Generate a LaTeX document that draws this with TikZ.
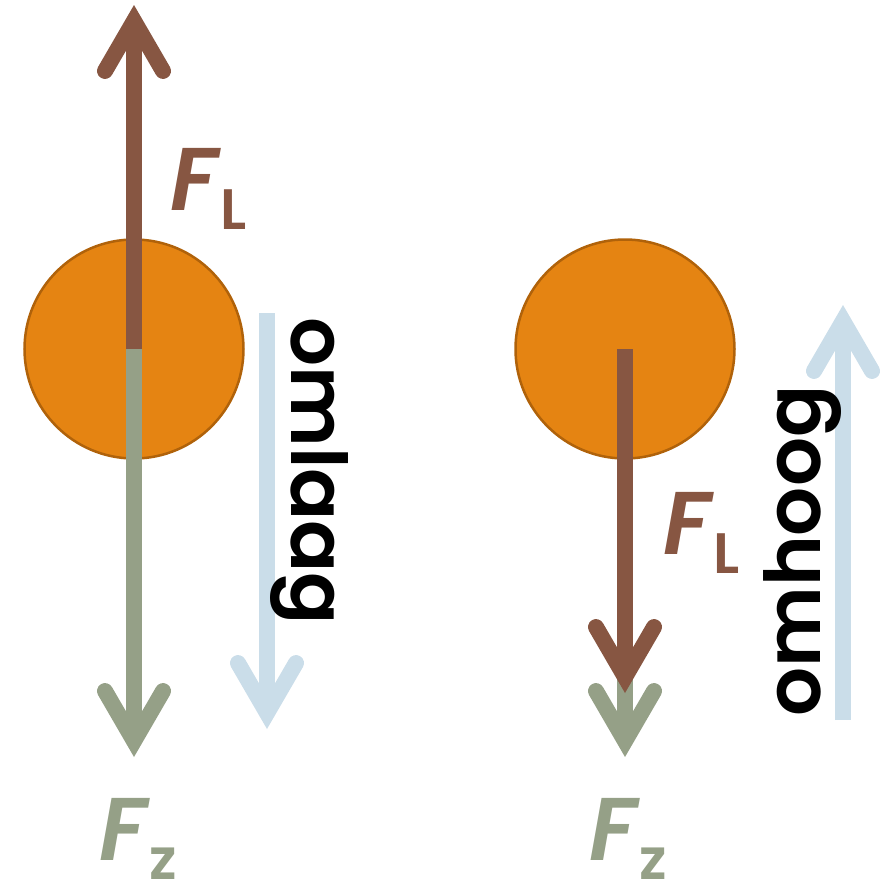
\documentclass[tikz,border=0pt]{standalone}
\usepackage{fontspec}
\setmainfont{Poppins}[UprightFont={* SemiBold},ItalicFont={* SemiBold Italic},BoldFont={* SemiBold}]
\usetikzlibrary{arrows.meta}
\definecolor{ballorange}{RGB}{229,132,18}
\definecolor{ballrim}{RGB}{176,98,10}
\definecolor{liftbrown}{RGB}{135,86,66}
\definecolor{gravgreen}{RGB}{149,160,135}
\definecolor{motionblue}{RGB}{202,221,233}
\newcommand{\forcesub}[1]{\kern3bp\raisebox{-19bp}{\fontsize{57bp}{57bp}\selectfont\upshape #1}}

\begin{document}
\begin{tikzpicture}[line cap=round,line join=round,x=1bp,y=-1bp,
        >={Straight Barb[length=50bp,width=58bp,line cap=round,line join=miter]},
        force/.style={line width=16bp,line cap=butt,->},
        ball/.style={circle,fill=ballorange,draw=ballrim,line width=2.5bp,minimum size=219bp,inner sep=0pt},
        flabel/.style={anchor=base west,inner sep=0pt,font=\fontsize{89bp}{89bp}\selectfont\itshape},
        motion/.style={inner sep=0pt,anchor=base west,font=\fontsize{77bp}{77bp}\selectfont}]
        \useasboundingbox (0,0) rectangle (895,882);
        % left ball: moving down
        \node[ball] (ballA) at (134,349) {};
        \coordinate (liftA) at (134,5);
        \coordinate (gravA) at (134,757);
        \draw[force,color=gravgreen] (ballA.center) -- (gravA);
        \draw[force,color=liftbrown] (ballA.center) -- (liftA);
        \node[flabel,color=liftbrown] (FLA) at (170,210) {F\forcesub{L}};
        \node[flabel,color=gravgreen] (FZA) at (99,860) {F\forcesub{z}};
        \coordinate (downtail) at (267,313);
        \coordinate (downtip) at (267,729);
        \draw[force,color=motionblue] (downtail) -- (downtip);
        \node[motion,rotate=-90] (down) at (291,317) {omlaag};
        % right ball: moving up
        \node[ball] (ballB) at (625,349) {};
        \coordinate (liftB) at (625,693);
        \coordinate (gravB) at (625,757);
        \draw[force,color=gravgreen] (ballB.center) -- (gravB);
        \draw[force,color=liftbrown] (ballB.center) -- (liftB);
        \node[flabel,color=liftbrown] (FLB) at (663,554) {F\forcesub{L}};
        \node[flabel,color=gravgreen] (FZB) at (589,860) {F\forcesub{z}};
        \coordinate (uptail) at (843,720);
        \coordinate (uptip) at (843,305);
        \draw[force,color=motionblue] (uptail) -- (uptip);
        \node[motion,rotate=90] (up) at (820,717) {omhoog};
\end{tikzpicture}
\end{document}
